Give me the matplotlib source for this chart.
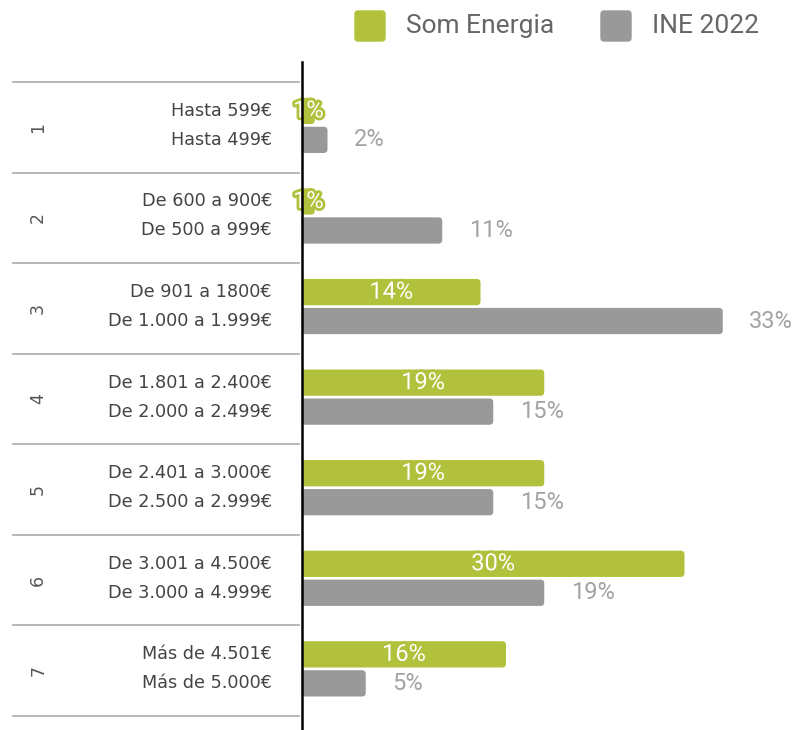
import numpy as np
import matplotlib.pyplot as plt
import matplotlib.transforms as mtransforms
import matplotlib.patheffects as pe
from matplotlib.patches import FancyBboxPatch

series = ['Som Energia', 'INE 2022']
groups = ['1', '2', '3', '4', '5', '6', '7']
labels_som = ['Hasta 599€', 'De 600 a 900€', 'De 901 a 1800€', 'De 1.801 a 2.400€',
              'De 2.401 a 3.000€', 'De 3.001 a 4.500€', 'Más de 4.501€']
labels_ine = ['Hasta 499€', 'De 500 a 999€', 'De 1.000 a 1.999€', 'De 2.000 a 2.499€',
              'De 2.500 a 2.999€', 'De 3.000 a 4.999€', 'Más de 5.000€']
som = [1, 1, 14, 19, 19, 30, 16]
ine = [2, 11, 33, 15, 15, 19, 5]

green = '#b1c13c'
grey = '#999999'

W, H = 798, 730
fig = plt.figure(figsize=(W / 100, H / 100), dpi=100)
# axes: x from the black line (302 px) to the right edge, y from 62 px to the bottom
ax = fig.add_axes([302 / W, 0, 1 - 302 / W, (H - 62) / H])

ax.set_xlim(0, (W - 302) / 12.75)
ax.set_ylim(6.655, -0.72)

y = np.arange(len(groups))
h = 0.29
bars_som = ax.barh(y - 0.18, som, height=h, color=green, zorder=2)
bars_ine = ax.barh(y + 0.14, ine, height=h, color=grey, zorder=2)

# swap the plain rectangles for ones with rounded ends (left side hidden behind the axis)
aspect = (1 / 90.57) / (1 / 12.75)
for bars in (bars_som, bars_ine):
    for r in bars:
        x0, y0, w, hh = r.get_x(), r.get_y(), r.get_width(), r.get_height()
        fb = FancyBboxPatch((x0 - 0.5, y0), w + 0.5, hh,
                            boxstyle='round,pad=0,rounding_size=0.3',
                            mutation_aspect=aspect, color=r.get_facecolor(),
                            lw=0, zorder=2)
        r.remove()
        ax.add_patch(fb)

for s in ['top', 'right', 'bottom']:
    ax.spines[s].set_visible(False)
ax.spines['left'].set_linewidth(1.8)
ax.spines['left'].set_color('black')
ax.spines['left'].set_zorder(5)
ax.set_xticks([])
ax.set_yticks([])

# value labels
for i, v in enumerate(som):
    ax.text(v / 2, i - 0.18, f'{v}%', ha='center', va='center', color='white',
            fontsize=17, family='Roboto', zorder=4,
            path_effects=[pe.withStroke(linewidth=4, foreground=green)])
for i, v in enumerate(ine):
    ax.annotate(f'{v}%', (v, i + 0.14), xytext=(19, 0), textcoords='offset points',
                ha='left', va='center', color='#a3a3a3', fontsize=17, family='Roboto')

# left category labels
trans = mtransforms.blended_transform_factory(ax.transAxes, ax.transData)
for i in range(len(groups)):
    ax.text(-0.0605, i - 0.18, labels_som[i], transform=trans, ha='right', va='center',
            fontsize=12.7, color='#444444')
    ax.text(-0.0605, i + 0.14, labels_ine[i], transform=trans, ha='right', va='center',
            fontsize=12.7, color='#444444')
    ax.text(-0.532, i, groups[i], transform=trans, ha='center', va='center',
            rotation=90, fontsize=12.5, color='#555555')

for edge in np.arange(-0.5, len(groups), 1.0):
    ax.plot([-0.583, -0.006], [edge, edge], transform=trans, color='#aaaaaa',
            lw=1.2, clip_on=False)

# legend
for x0, name, col in [(354, series[0], green), (600, series[1], grey)]:
    sq = FancyBboxPatch(((x0 + 1) / W, 1 - 41 / H), 30 / W, 30 / H,
                        boxstyle='round,pad=0,rounding_size=0.004',
                        transform=fig.transFigure, color=col, mutation_aspect=W / H)
    fig.patches.append(sq)
    fig.text((x0 + 52) / W, 1 - 26 / H, name, ha='left', va='center',
             fontsize=19, family='Roboto', color='#666666')

fig.savefig('out.png', dpi=100)
